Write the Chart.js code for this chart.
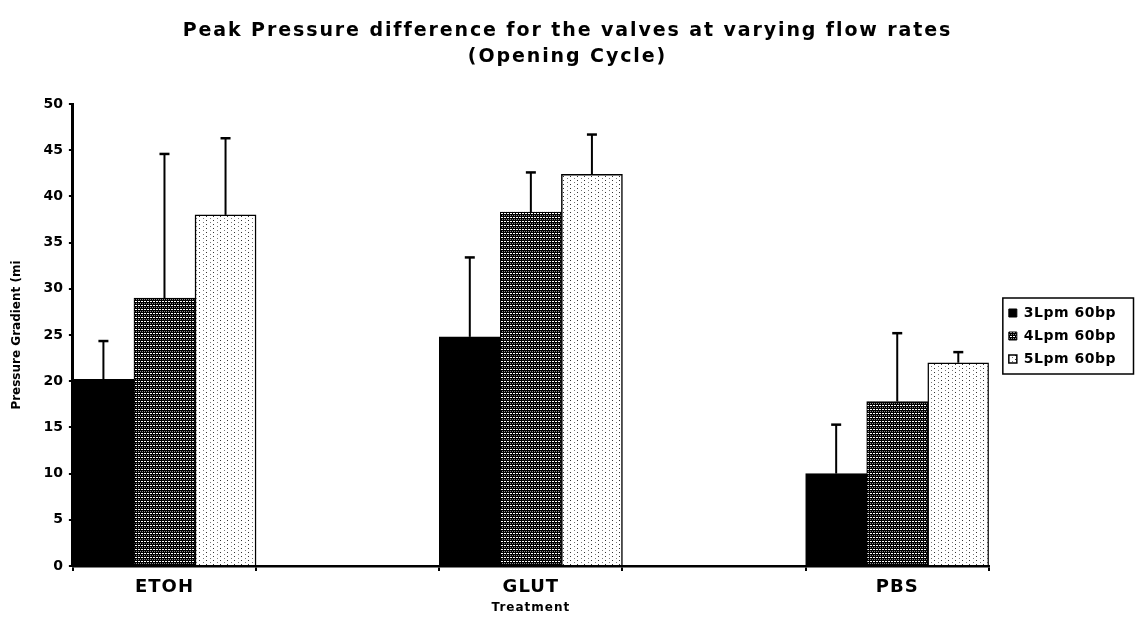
<!DOCTYPE html>
<html>
<head>
<meta charset="utf-8">
<script src="https://cdn.jsdelivr.net/npm/chart.js@4.4.1/dist/chart.umd.min.js"></script>
<style>
html,body{margin:0;padding:0;background:#fff;}
#wrap{width:1135px;height:618px;}
</style>
</head>
<body>
<div id="wrap"><canvas id="c" width="1135" height="618"></canvas></div>
<script>
// ---- data ----
const categories = ['ETOH', '', 'GLUT', '', 'PBS'];
const seriesNames = ['3Lpm 60bp', '4Lpm 60bp', '5Lpm 60bp'];
const lpm3 = [20.2, null, 24.8, null, 10.0];
const lpm4 = [29.0, null, 38.3, null, 17.8];
const lpm5 = [38.0, null, 42.4, null, 22.0];
const err3 = [4.15, null, 8.6, null, 5.3];
const err4 = [15.6, null, 4.3, null, 7.4];
const err5 = [8.3, null, 4.3, null, 1.15];
const yMin = 0, yMax = 50, yStep = 5;
const titleLines = ['Peak Pressure difference for the valves at varying flow rates', '(Opening Cycle)'];
const xTitle = 'Treatment';
const yTitle = 'Pressure Gradient (mi';

const errorSeries = [err3, err4, err5];

// ---- styles ----
const FONT = 'DejaVu Sans';
Chart.defaults.font.family = FONT;
Chart.defaults.font.weight = 'bold';
Chart.defaults.color = '#000';

const canvas = document.getElementById('c');
const mainCtx = canvas.getContext('2d');

function makePattern(w, h, bg, pixels) {
  const t = document.createElement('canvas');
  t.width = w; t.height = h;
  const c = t.getContext('2d');
  c.fillStyle = bg; c.fillRect(0, 0, w, h);
  pixels.forEach(p => { c.fillStyle = p[2]; c.fillRect(p[0], p[1], 1, 1); });
  return mainCtx.createPattern(t, 'repeat');
}
// dark hatched pattern
const darkPix = [];
for (let x = 0; x < 6; x++) {
  if (x % 3 !== 2) darkPix.push([x, 1, '#ffffff']);
  if (x % 2 === 0) darkPix.push([x, 3, '#8a8a8a']);
}
const darkPattern = makePattern(6, 4, '#000000', darkPix);
// light dotted pattern
const dotPattern = makePattern(7, 4, '#ffffff', [[3, 0, '#333'], [0, 2, '#777']]);

const LS = { title: 1.9, legend: 0.5, x: 1.0, y: 0 };
const LEGEND_SHIFT = 11, LEGEND_SHIFT_Y = 27, TITLE_SHIFT = 10;

function wrapSpacing(obj, methods, px, dx, dy) {
  if (!obj || obj.__lsWrapped) return;
  obj.__lsWrapped = true;
  methods.forEach(m => {
    const orig = obj[m];
    if (typeof orig !== 'function') return;
    obj[m] = function (...args) {
      const ctx = this.ctx;
      ctx.save();
      if (m === 'draw' && (dx || dy)) ctx.translate(dx || 0, dy || 0);
      ctx.letterSpacing = px + 'px';
      try { return orig.apply(this, args); } finally { ctx.restore(); }
    };
  });
}

const spacingPlugin = {
  id: 'spacing',
  beforeLayout(chart) {
    wrapSpacing(chart.titleBlock, ['update', 'draw'], LS.title, TITLE_SHIFT, 0);
    wrapSpacing(chart.scales.x, ['update', 'draw'], LS.x, 0, 0);
    wrapSpacing(chart.scales.y, ['update', 'draw'], LS.y, 0, 0);
    wrapSpacing(chart.legend, ['update', 'draw'], LS.legend, LEGEND_SHIFT, LEGEND_SHIFT_Y);
  }
};

const errorBarPlugin = {
  id: 'errorBars',
  afterDatasetsDraw(chart) {
    const ctx = chart.ctx, ys = chart.scales.y;
    ctx.save();
    ctx.strokeStyle = '#000';
    chart.data.datasets.forEach((ds, i) => {
      const meta = chart.getDatasetMeta(i);
      meta.data.forEach((bar, j) => {
        const v = ds.data[j], e = errorSeries[i][j];
        if (v == null || e == null) return;
        const yTop = ys.getPixelForValue(v + e);
        ctx.lineWidth = 2;
        ctx.beginPath(); ctx.moveTo(bar.x, bar.y); ctx.lineTo(bar.x, yTop); ctx.stroke();
        ctx.lineWidth = 2.5;
        ctx.beginPath(); ctx.moveTo(bar.x - 5, yTop); ctx.lineTo(bar.x + 5, yTop); ctx.stroke();
      });
    });
    ctx.restore();
  }
};

const legendFramePlugin = {
  id: 'legendFrame',
  afterDraw(chart) {
    const lg = chart.legend;
    if (!lg || !lg.legendHitBoxes || !lg.legendHitBoxes.length) return;
    const hb = lg.legendHitBoxes;
    const ctx = chart.ctx;
    const left = hb[0].left + LEGEND_SHIFT - 6;
    const top = hb[0].top + LEGEND_SHIFT_Y - 8;
    const last = hb[hb.length - 1];
    const bottom = last.top + last.height + LEGEND_SHIFT_Y + 8;
    const right = chart.width - 1.5;
    ctx.save();
    ctx.strokeStyle = '#000';
    ctx.lineWidth = 1.5;
    ctx.strokeRect(left, top, right - left, bottom - top);
    ctx.restore();
  }
};

new Chart(canvas, {
  type: 'bar',
  data: {
    labels: categories,
    datasets: [
      { label: seriesNames[0], data: lpm3, backgroundColor: '#000', borderColor: '#000', borderWidth: 1 },
      { label: seriesNames[1], data: lpm4, backgroundColor: darkPattern, borderColor: '#000', borderWidth: 1 },
      { label: seriesNames[2], data: lpm5, backgroundColor: dotPattern, borderColor: '#000', borderWidth: 1.5 }
    ]
  },
  options: {
    responsive: false,
    animation: false,
    devicePixelRatio: 1,
    layout: { padding: { left: 0, right: 20, top: 0, bottom: 0 } },
    datasets: { bar: { categoryPercentage: 1.0, barPercentage: 1.0 } },
    plugins: {
      title: {
        display: true,
        text: titleLines,
        color: '#000',
        font: { family: FONT, size: 19, weight: 'bold', lineHeight: 1.37 },
        padding: { top: 18, bottom: 34 }
      },
      legend: {
        display: true,
        position: 'right',
        labels: {
          color: '#000',
          boxWidth: 8,
          boxHeight: 8,
          padding: 9,
          font: { family: FONT, size: 14, weight: 'bold' }
        }
      },
      tooltip: { enabled: false }
    },
    scales: {
      x: {
        offset: true,
        ticks: { color: '#000', padding: 3, maxRotation: 0, autoSkip: false, font: { family: FONT, size: 18, weight: 'bold', lineHeight: 1.5 } },
        grid: { display: true, offset: true, drawOnChartArea: false, drawTicks: true, tickLength: 5, color: '#000', lineWidth: 2 },
        border: { display: true, color: '#000', width: 2.5 },
        title: { display: true, text: xTitle, color: '#000', font: { family: FONT, size: 12, weight: 'bold', lineHeight: 1.0 }, padding: { top: -2, bottom: 4 } }
      },
      y: {
        min: yMin,
        max: yMax,
        ticks: { stepSize: yStep, color: '#000', padding: 6, font: { family: FONT, size: 14, weight: 'bold' } },
        grid: { display: true, drawOnChartArea: false, drawTicks: true, tickLength: 4, color: '#000', lineWidth: 2 },
        border: { display: true, color: '#000', width: 3 },
        title: { display: true, text: yTitle, color: '#000', font: { family: FONT, size: 12, weight: 'bold' }, padding: { top: 10, bottom: 13 } }
      }
    }
  },
  plugins: [spacingPlugin, errorBarPlugin, legendFramePlugin]
});
</script>
</body>
</html>
